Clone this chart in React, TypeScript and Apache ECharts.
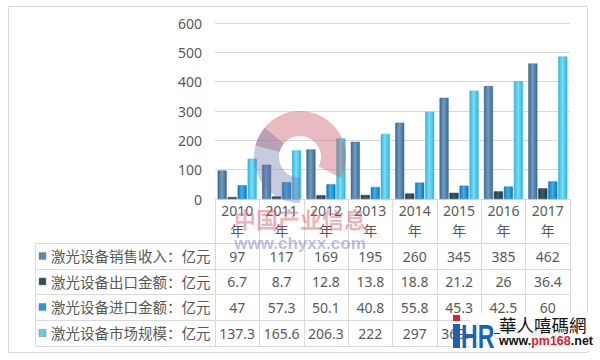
import React, { useEffect, useRef } from 'react';
import * as echarts from 'echarts';

const categories = ['2010', '2011', '2012', '2013', '2014', '2015', '2016', '2017'];
const yearSuffix = '年';
const seriesNames = ['激光设备销售收入', '激光设备出口金额', '激光设备进口金额', '激光设备市场规模'];
const unitLabel = '亿元';
const salesRevenue = [97, 117, 169, 195, 260, 345, 385, 462];
const exportValue = [6.7, 8.7, 12.8, 13.8, 18.8, 21.2, 26, 36.4];
const importValue = [47, 57.3, 50.1, 40.8, 55.8, 45.3, 42.5, 60];
const marketSize = [137.3, 165.6, 206.3, 222, 297, 369.1, 401.5, 485.6];
const yMin = 0;
const yMax = 600;
const yInterval = 100;

const seriesValues = [salesRevenue, exportValue, importValue, marketSize];

// styling
const barDark = ['#3d6a8f', '#213b49', '#1476b6', '#33b5dc'];
const barLight = ['#6f9dc1', '#3c5c6e', '#3db2ea', '#78def7'];
const keyColors = ['#5b8ab0', '#2f4e5e', '#2a9ad6', '#5ccdf0'];
const textColor = '#595959';
const lineColor = '#d9d9d9';
const FONT = '"Noto Sans", "Noto Sans CJK SC", sans-serif';

// layout
const W = 600;
const H = 360;
const plotLeft = 215;
const plotRight = 570;
const plotTop = 23;
const axisY = 199;
const tableLeft = 35;
const rowLines = [243, 269, 294, 320, 346];

function grad(i: number) {
  return new echarts.graphic.LinearGradient(0, 0, 1, 0, [
    { offset: 0, color: barDark[i] },
    { offset: 0.45, color: barLight[i] },
    { offset: 1, color: barDark[i] },
  ]);
}

export default function App() {
  const ref = useRef<HTMLDivElement>(null);
  useEffect(() => {
    document.body.style.margin = '0';
    const chart = echarts.init(ref.current!, undefined, { renderer: 'svg' });

    const rowCenters = rowLines.slice(0, 4).map((y, i) => (y + rowLines[i + 1]) / 2);

    const valueAxes = seriesValues.map((vals, r) => ({
      type: 'category',
      gridIndex: 0,
      position: 'bottom',
      offset: rowCenters[r] - axisY,
      data: categories,
      axisLine: { show: false },
      axisTick: { show: false },
      axisLabel: {
        interval: 0,
        margin: 0,
        verticalAlign: 'middle',
        color: textColor,
        fontSize: 14,
        fontFamily: FONT,
        formatter: (_v: string, idx: number) => String(vals[idx]),
      },
    }));

    const graphics: any[] = [];
    graphics.push({
      type: 'rect',
      shape: { x: 8.5, y: 6.5, width: 579, height: 346 },
      style: { fill: 'none', stroke: lineColor, lineWidth: 1 },
      z: 0,
    });
    rowLines.forEach((y) => {
      graphics.push({
        type: 'line',
        shape: { x1: tableLeft, y1: y + 0.5, x2: plotRight, y2: y + 0.5 },
        style: { stroke: lineColor, lineWidth: 1 },
      });
    });
    graphics.push({
      type: 'line',
      shape: { x1: tableLeft + 0.5, y1: rowLines[0], x2: tableLeft + 0.5, y2: rowLines[4] },
      style: { stroke: lineColor, lineWidth: 1 },
    });
    seriesNames.forEach((name, r) => {
      graphics.push({
        type: 'rect',
        shape: { x: 39, y: rowCenters[r] - 3.5, width: 7, height: 7 },
        style: { fill: keyColors[r], stroke: '#7f7f7f', lineWidth: 0.5 },
      });
      graphics.push({
        type: 'text',
        x: 51,
        y: rowCenters[r],
        style: {
          text: name + '：' + unitLabel,
          fill: textColor,
          fontSize: 14.5,
          fontFamily: FONT,
          verticalAlign: 'middle',
        },
      });
    });
    // watermark logo (chyxx)
    graphics.push({
      type: 'sector',
      shape: { cx: 300, cy: 157, r: 46, r0: 21, startAngle: -Math.PI * 0.92, endAngle: Math.PI * 0.15 },
      style: { fill: '#c8606a', opacity: 0.42 },
      z: 10,
    });
    graphics.push({
      type: 'sector',
      shape: { cx: 300, cy: 157, r: 46, r0: 21, startAngle: Math.PI * 0.5, endAngle: Math.PI * 1.22 },
      style: { fill: '#6f74a6', opacity: 0.38 },
      z: 10,
    });
    graphics.push({
      type: 'text',
      x: 300,
      y: 218,
      style: {
        text: '中国产业信息',
        fill: '#d9505f',
        opacity: 0.45,
        fontSize: 22,
        fontWeight: 'bold',
        fontFamily: '"Noto Sans CJK SC", sans-serif',
        align: 'center',
        verticalAlign: 'middle',
      },
      z: 10,
    });
    graphics.push({
      type: 'text',
      x: 300,
      y: 243,
      style: {
        text: 'www.chyxx.com',
        fill: '#6a70b8',
        opacity: 0.45,
        fontSize: 17,
        fontWeight: 'bold',
        fontFamily: '"Liberation Sans", sans-serif',
        align: 'center',
        verticalAlign: 'middle',
      },
      z: 10,
    });
    // HR logo (bottom right)
    graphics.push({
      type: 'rect',
      shape: { x: 470, y: 313, width: 118, height: 38 },
      style: { fill: '#ffffff', opacity: 0.85 },
      z: 20,
    });
    graphics.push({
      type: 'rect',
      shape: { x: 453, y: 315, width: 7, height: 6 },
      style: { fill: '#e0202a' },
      z: 21,
    });
    graphics.push({
      type: 'rect',
      shape: { x: 453, y: 324, width: 7, height: 24 },
      style: { fill: '#1a62b8' },
      z: 21,
    });
    graphics.push({
      type: 'text',
      x: 461,
      y: 336,
      scaleX: 0.68,
      style: {
        text: 'HR',
        fill: '#1a62b8',
        fontSize: 34,
        fontWeight: 'bold',
        fontFamily: '"Liberation Sans", sans-serif',
        verticalAlign: 'middle',
      },
      z: 21,
    });
    graphics.push({
      type: 'text',
      x: 499,
      y: 324,
      style: {
        text: '華人嘻碼網',
        fill: '#111111',
        fontSize: 17.5,
        fontFamily: '"Noto Sans CJK TC", sans-serif',
        verticalAlign: 'middle',
      },
      z: 21,
    });
    graphics.push({
      type: 'line',
      shape: { x1: 494, y1: 333.5, x2: 500, y2: 333.5 },
      style: { stroke: '#333333', lineWidth: 1 },
      z: 21,
    });
    graphics.push({
      type: 'text',
      x: 499,
      y: 341,
      style: {
        text: '{a|www.}{b|pm168}{a|.net}',
        fontFamily: '"Liberation Sans", sans-serif',
        verticalAlign: 'middle',
        rich: {
          a: { fill: '#111111', fontSize: 12.5, fontWeight: 'bold', fontFamily: '"Liberation Sans", sans-serif' },
          b: { fill: '#e0202a', fontSize: 12.5, fontWeight: 'bold', fontFamily: '"Liberation Sans", sans-serif' },
        },
      },
      z: 21,
    });

    const option: any = {
      animation: false,
      backgroundColor: '#ffffff',
      grid: {
        left: plotLeft,
        right: W - plotRight,
        top: plotTop,
        bottom: H - axisY,
        containLabel: false,
      },
      xAxis: [
        {
          type: 'category',
          data: categories,
          position: 'bottom',
          boundaryGap: true,
          axisLine: { show: true, lineStyle: { color: lineColor } },
          axisTick: {
            show: true,
            interval: 0,
            length: rowLines[4] - axisY,
            lineStyle: { color: lineColor },
          },
          axisLabel: {
            interval: 0,
            margin: 1,
            color: textColor,
            fontSize: 14,
            lineHeight: 20,
            fontFamily: FONT,
            formatter: (v: string) => v + '\n' + yearSuffix,
          },
        },
        ...valueAxes,
      ],
      yAxis: {
        type: 'value',
        min: yMin,
        max: yMax,
        interval: yInterval,
        axisLine: { show: false },
        axisTick: { show: false },
        splitLine: { lineStyle: { color: lineColor } },
        axisLabel: { color: textColor, fontSize: 14, margin: 13, fontFamily: FONT },
      },
      series: seriesNames.map((name, i) => ({
        name,
        type: 'bar',
        xAxisIndex: 0,
        data: seriesValues[i],
        barGap: '10%',
        barCategoryGap: '12%',
        itemStyle: { color: grad(i), borderColor: barDark[i], borderWidth: 0.5 },
        z: 2,
      })),
      graphic: graphics,
    };
    chart.setOption(option);
    return () => chart.dispose();
  }, []);
  return <div ref={ref} style={{ width: W, height: H }} />;
}
